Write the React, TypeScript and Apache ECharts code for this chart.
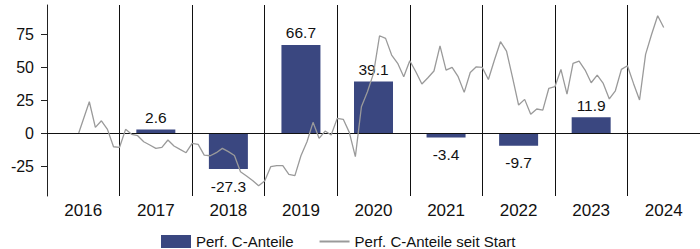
import React, { useEffect, useRef } from "react";
import * as echarts from "echarts";

const years = ["2016", "2017", "2018", "2019", "2020", "2021", "2022", "2023", "2024"];
const yearPerf: (number | null)[] = [null, 2.6, -27.3, 66.7, 39.1, -3.4, -9.7, 11.9, null];
const yTicks = [-25, 0, 25, 50, 75];

// Cumulative performance since launch, month-end values (month index from Jan 2016)
const launchMonth = 5.25;
const launchValue = 0;
const firstMonth = 7;
const sinceStart = [
  23.7, 4.3, 9.3, 2.8, -10.4, -10.8, 2.8, -1, -2, -6.6, -9.1, -11.6, -10.8, -5.3, -9.8, -12.4,
  -14.9, -7.8, -8.6, -16.7, -17.2, -14.9, -11.6, -14.1, -17, -29.3, -32.5, -36, -40, -36.4,
  -25.5, -24.7, -24.7, -31.3, -32.3, -17.2, -6.6, 8.1, -4, 1.5, -1.5, 11.1, 10.4, 0.5, -17.9,
  19.9, 31.3, 45.2, 73.7, 71.7, 59.1, 52.8, 42.7, 54.8, 46.4, 37.1, 41.9, 47, 66.1, 47.7, 49.7,
  42.7, 30.8, 45.9, 50.2, 49.7, 40.6, 55.3, 69.2, 62.1, 41.9, 21.2, 25.5, 14.2, 18.2, 17.4, 33.9,
  35.1, 48.2, 29.5, 52.8, 54.5, 47.7, 38.1, 43.9, 37.6, 25.8, 32, 48.2, 51, 37.6, 25, 59.6, 74.8,
  88.9, 80,
];

const FONT = "'Liberation Sans', Arial, Helvetica, sans-serif";

export default function App() {
  const ref = useRef<HTMLDivElement>(null);
  useEffect(() => {
    if (!ref.current) return;
    const chart = echarts.init(ref.current, undefined, { renderer: "svg" });
    const lineData: [number, number][] = [[launchMonth, launchValue]];
    sinceStart.forEach((v, i) => lineData.push([firstMonth + i, v]));
    const barData = yearPerf.map((v) =>
      v === null
        ? { value: null }
        : {
            value: v,
            label: {
              show: true,
              position: v >= 0 ? "top" : "bottom",
              distance: v >= 0 ? 4 : 9,
              formatter: v.toFixed(1),
            },
          }
    );
    chart.setOption({
      animation: false,
      textStyle: { fontFamily: FONT },
      grid: { left: 47, top: 5, width: 658, height: 191, containLabel: false },
      legend: {
        left: 156,
        top: 229,
        itemWidth: 30,
        itemHeight: 13,
        itemGap: 25,
        textStyle: { fontSize: 15, color: "#111", fontFamily: FONT },
        data: [
          { name: "Perf. C-Anteile", icon: "rect" },
          { name: "Perf. C-Anteile seit Start", itemStyle: { opacity: 0, borderWidth: 0 } },
        ],
      },
      xAxis: [
        {
          type: "category",
          data: years,
          boundaryGap: true,
          axisLine: { lineStyle: { color: "#222", width: 1 } },
          axisTick: { show: false },
          axisLabel: { fontSize: 17, color: "#111", margin: 6, fontFamily: FONT },
          splitLine: { show: true, lineStyle: { color: "#111", width: 1 } },
        },
        {
          type: "value",
          min: 0,
          max: 108,
          show: false,
          splitLine: { show: false },
        },
      ],
      yAxis: {
        type: "value",
        min: -47.7,
        max: 97,
        axisLine: { show: true, lineStyle: { color: "#222", width: 1 } },
        axisTick: { show: true, length: 6, customValues: yTicks, lineStyle: { color: "#222" } },
        axisLabel: { fontSize: 16, color: "#111", margin: 13, customValues: yTicks, fontFamily: FONT },
        splitLine: { show: false },
      },
      series: [
        {
          name: "Perf. C-Anteile",
          type: "bar",
          xAxisIndex: 0,
          barWidth: 39,
          itemStyle: { color: "#3a4780" },
          label: { fontSize: 15.5, color: "#111", fontFamily: FONT },
          data: barData,
          markLine: {
            silent: true,
            symbol: ["none", "none"],
            label: { show: false },
            lineStyle: { color: "#111", width: 1, type: "solid" },
            data: [{ yAxis: 0 }],
          },
          z: 2,
        },
        {
          name: "Perf. C-Anteile seit Start",
          type: "line",
          xAxisIndex: 1,
          showSymbol: false,
          symbol: "none",
          lineStyle: { color: "#9a9a9a", width: 1.3 },
          itemStyle: { color: "#9a9a9a" },
          data: lineData,
          z: 5,
        },
      ],
    });
    return () => chart.dispose();
  }, []);
  return (
    <div
      ref={ref}
      style={{ position: "fixed", left: 0, top: 0, width: 700, height: 249, background: "#fff" }}
    />
  );
}
